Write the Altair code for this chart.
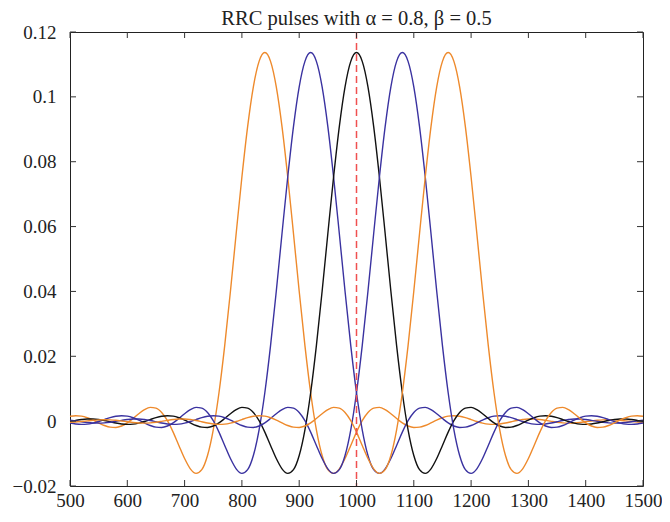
import altair as alt
import pandas as pd

# Pulse shape: value at sample offset 0, 10, 20, ... 660 from the pulse centre
offsets_half = list(range(0, 670, 10))
pulse_half = [
    0.11366, 0.11095, 0.10310, 0.09083, 0.07528, 0.05786, 0.04006, 0.02329, 0.00876, -0.00269,
    -0.01061, -0.01497, -0.01612, -0.01470, -0.01154, -0.00750, -0.00339, 0.00014, 0.00267, 0.00403,
    0.00424, 0.00355, 0.00228, 0.00081, -0.00054, -0.00150, -0.00194, -0.00186, -0.00134, -0.00055,
    0.00030, 0.00104, 0.00153, 0.00168, 0.00151, 0.00107, 0.00049, -0.00011, -0.00061, -0.00093,
    -0.00101, -0.00087, -0.00057, -0.00018, 0.00020, 0.00050, 0.00066, 0.00065, 0.00050, 0.00024,
    -0.00006, -0.00034, -0.00053, -0.00061, -0.00056, -0.00041, -0.00018, 0.00006, 0.00027, 0.00040,
    0.00045, 0.00039, 0.00026, 0.00008, -0.00010, -0.00025, -0.00033,
]

centers = [840, 920, 1000, 1080, 1160]
series_names = ["p840", "p920", "p1000", "p1080", "p1160"]
series_colors = ["#EE8A2C", "#3A32A0", "#111111", "#3A32A0", "#EE8A2C"]

x_ticks = [500, 600, 700, 800, 900, 1000, 1100, 1200, 1300, 1400, 1500]
y_ticks = [-0.02, 0.0, 0.02, 0.04, 0.06, 0.08, 0.1, 0.12]
marker_x = [1000]
title_text = "RRC pulses with α = 0.8, β = 0.5"

W, H = 573, 454

# full symmetric pulse
full_off = [-o for o in reversed(offsets_half[1:])] + offsets_half
full_val = list(reversed(pulse_half[1:])) + pulse_half

rows = []
for name, c in zip(series_names, centers):
    for o, v in zip(full_off, full_val):
        xx = c + o
        if 500 <= xx <= 1500:
            rows.append({"series": name, "x": xx, "y": v})
df = pd.DataFrame(rows)

xs = alt.Scale(domain=[500, 1500], nice=False, zero=False)
ys = alt.Scale(domain=[-0.02, 0.12], nice=False, zero=False)

lines = alt.Chart(df).mark_line(strokeWidth=1.4, interpolate="monotone").encode(
    x=alt.X("x:Q", scale=xs, title=None,
            axis=alt.Axis(values=x_ticks, format="d", labelPadding=5, labelFlush=False)),
    y=alt.Y("y:Q", scale=ys, title=None,
            axis=alt.Axis(values=y_ticks, format=".2~f", labelPadding=14, labelFlush=False,
                          minExtent=62, maxExtent=62)),
    color=alt.Color("series:N", scale=alt.Scale(domain=series_names, range=series_colors),
                    legend=None),
)

marker = alt.Chart(pd.DataFrame({"x": marker_x})).mark_rule(
    color="#F05050", strokeDash=[7, 4], strokeWidth=1.5
).encode(x=alt.X("x:Q", scale=xs, title=None))

xt = pd.DataFrame({"v": x_ticks})
yt = pd.DataFrame({"v": y_ticks})
tick_color = "#333333"

xb = alt.Chart(xt).mark_rule(color=tick_color, strokeWidth=1).encode(
    x=alt.X("v:Q", scale=xs, title=None), y=alt.value(H), y2=alt.value(H - 6))
xtop = alt.Chart(xt).mark_rule(color=tick_color, strokeWidth=1).encode(
    x=alt.X("v:Q", scale=xs, title=None), y=alt.value(0), y2=alt.value(6))
yl = alt.Chart(yt).mark_rule(color=tick_color, strokeWidth=1).encode(
    y=alt.Y("v:Q", scale=ys, title=None), x=alt.value(0), x2=alt.value(6))
yr = alt.Chart(yt).mark_rule(color=tick_color, strokeWidth=1).encode(
    y=alt.Y("v:Q", scale=ys, title=None), x=alt.value(W - 6), x2=alt.value(W))

chart = alt.layer(lines, marker, xb, xtop, yl, yr).properties(
    width=W, height=H,
    title=alt.TitleParams(title_text, font="Liberation Serif", fontSize=20.5,
                          fontWeight="normal", color="#222222", anchor="middle",
                          frame="group", offset=-6),
    padding={"left": 0, "top": 0, "right": 0, "bottom": 0},
).configure_view(
    stroke="#222222", strokeWidth=1
).configure_axis(
    domain=False, ticks=False, tickSize=0, grid=False,
    labelFont="Liberation Serif", labelFontSize=19, labelColor="#222222",
)

chart.save("out.html", embed_options={"renderer": "svg", "actions": False})
